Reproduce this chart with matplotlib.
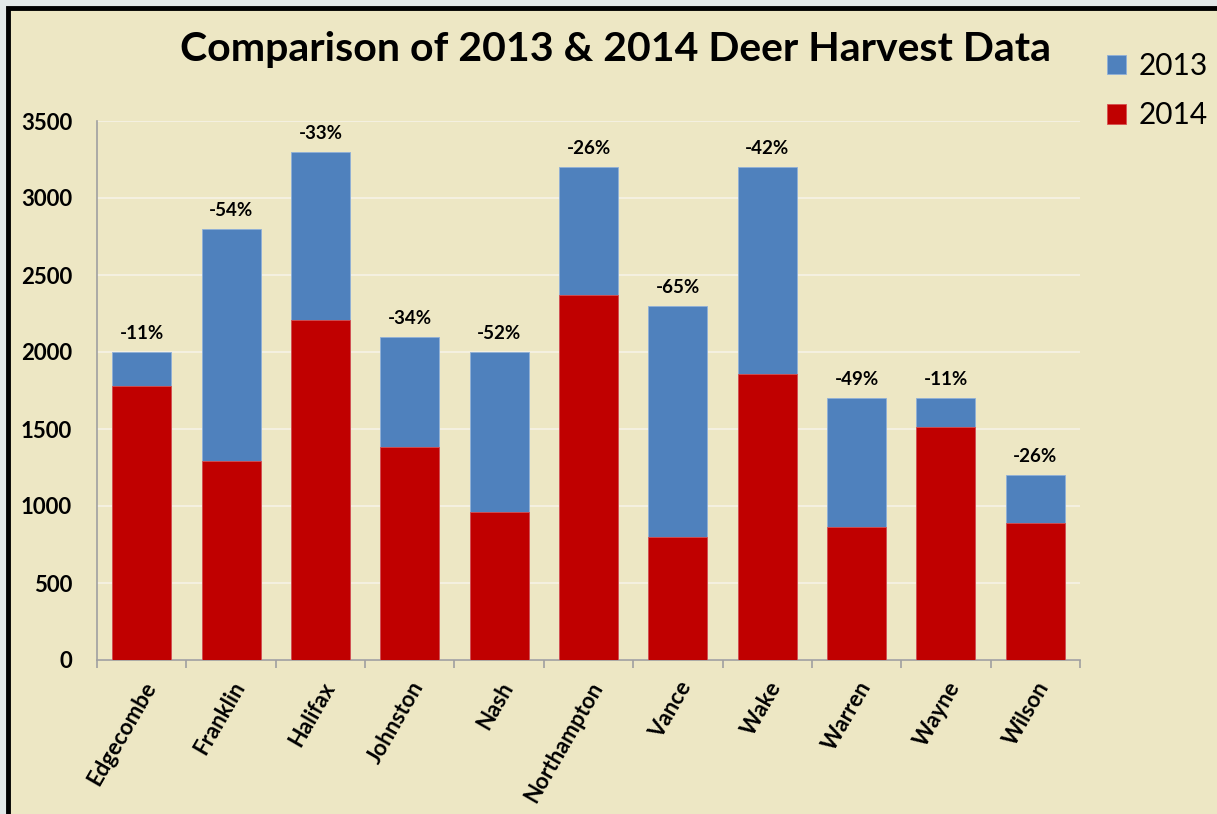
import numpy as np
import matplotlib.pyplot as plt
from matplotlib.patches import Rectangle

counties = ["Edgecombe", "Franklin", "Halifax", "Johnston", "Nash", "Northampton",
            "Vance", "Wake", "Warren", "Wayne", "Wilson"]
harvest_2013 = [2000, 2800, 3300, 2100, 2000, 3200, 2300, 3200, 1700, 1700, 1200]
harvest_2014 = [1780, 1290, 2210, 1385, 960, 2370, 800, 1860, 865, 1515, 890]
pct_labels = ["-11%", "-54%", "-33%", "-34%", "-52%", "-26%", "-65%", "-42%", "-49%", "-11%", "-26%"]

plt.rcParams['font.family'] = ['Lato', 'DejaVu Sans']

W, H = 1217, 814
fig = plt.figure(figsize=(W / 100, H / 100), dpi=100, facecolor="#E2E8E8")
# beige panel with black frame (only left/top edges are visible)
bg = fig.add_axes([0, 0, 1, 1], zorder=0)
bg.set_axis_off()
bg.set_xlim(0, W)
bg.set_ylim(H, 0)
bg.add_patch(Rectangle((8, 8), W + 50, H + 50, facecolor="#EDE7C4", edgecolor="black", linewidth=3.5))

ax = fig.add_axes([97 / W, (H - 660) / H, 983 / W, 539 / H], zorder=2)
ax.set_facecolor("none")

x = np.arange(len(counties))
ax.bar(x, harvest_2013, width=0.66, color="#4F81BD", edgecolor="#8FB0D8", linewidth=0.6, zorder=2, label="2013")
ax.bar(x, harvest_2014, width=0.66, color="#C00000", edgecolor="#D85050", linewidth=0.6, zorder=3, label="2014")

for xi, v, lab in zip(x, harvest_2013, pct_labels):
    ax.text(xi, v + 65, lab, ha="center", va="bottom", fontsize=13.5, fontweight="bold", zorder=4)

ax.set_xlim(-0.5, len(counties) - 0.5)
ax.set_ylim(0, 3500)
ax.set_yticks(range(0, 3501, 500))
ax.yaxis.grid(True, color="#F6F3E6", linewidth=1.2, zorder=1)
ax.set_axisbelow(True)
ax.tick_params(axis="y", length=0, pad=18, labelsize=16)
for lab in ax.get_yticklabels():
    lab.set_fontweight("bold")

ax.set_xticks(x)
ax.set_xticklabels(counties, rotation=60, ha="right", rotation_mode="anchor",
                   fontsize=16, fontweight="bold")
ax.tick_params(axis="x", length=0, pad=13)
ax.set_xticks(np.arange(-0.5, len(counties)), minor=True)
ax.tick_params(axis="x", which="minor", length=6, color="#A0A0A0", width=1.2)

for s in ["top", "right"]:
    ax.spines[s].set_visible(False)
for s in ["left", "bottom"]:
    ax.spines[s].set_color("#A0A0A0")
    ax.spines[s].set_linewidth(1.2)

fig.text(616 / W, 1 - 49 / H, "Comparison of 2013 & 2014 Deer Harvest Data", ha="center", va="center",
         fontsize=29.5, fontweight="bold", zorder=3)

ax.legend(loc="upper left", bbox_to_anchor=(1107 / W, 1 - 52 / H), bbox_transform=fig.transFigure,
          frameon=False, fontsize=21.5, handlelength=0.65, handleheight=0.65, handletextpad=0.4,
          labelspacing=0.72, borderpad=0, borderaxespad=0)

fig.savefig("out.png", dpi=100, facecolor=fig.get_facecolor())
